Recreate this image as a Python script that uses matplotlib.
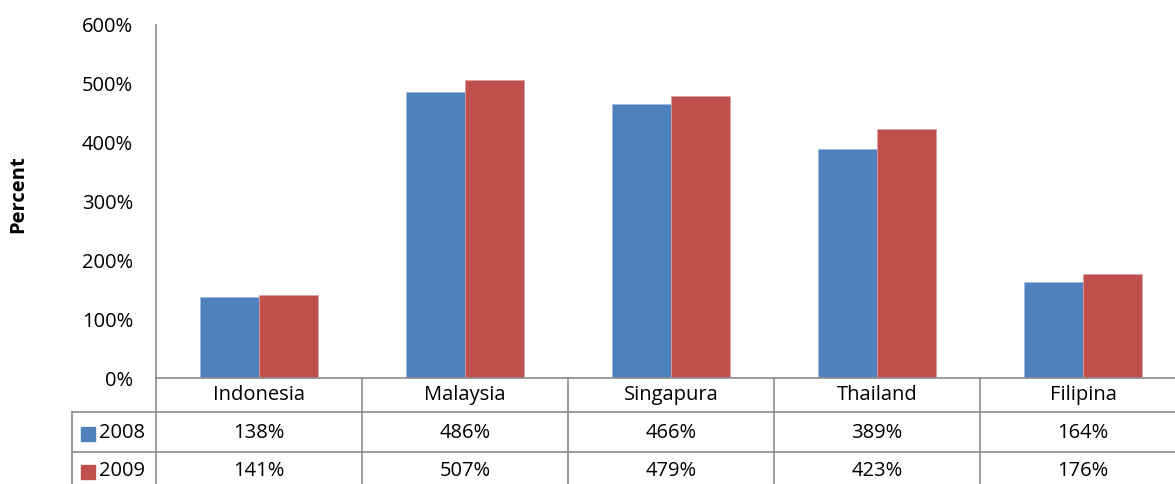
import matplotlib
matplotlib.use("Agg")
import matplotlib.pyplot as plt
from matplotlib.patches import Rectangle

countries = ["Indonesia", "Malaysia", "Singapura", "Thailand", "Filipina"]
years = ["2008", "2009"]
v2008 = [138, 486, 466, 389, 164]
v2009 = [141, 507, 479, 423, 176]
yticks = [0, 100, 200, 300, 400, 500, 600]

BLUE, RED = "#4F81BD", "#C0504D"
GRID = "#8C8C8C"
W, H = 1175, 484
FS = 14.5

plt.rcParams["font.family"] = ["Open Sans", "DejaVu Sans"]
fig = plt.figure(figsize=(W / 100, H / 100), dpi=100)

# plot area in pixel terms (chart is cropped on the right and bottom)
x0, cw, ytop, ybot = 156, 206, 25, 378
ax = fig.add_axes([x0 / W, 1 - ybot / H, 5 * cw / W, (ybot - ytop) / H])
ax.set_xlim(0, 5)
ax.set_ylim(0, 600)

bw = 0.286
xs = [i + 0.5 for i in range(len(countries))]
ax.bar([x - bw / 2 for x in xs], v2008, bw, color=BLUE, edgecolor="#9DB9DC", lw=0.5)
ax.bar([x + bw / 2 for x in xs], v2009, bw, color=RED, edgecolor="#DE9E9C", lw=0.5)

ax.set_yticks(yticks)
ax.set_yticklabels([f"{t}%" for t in yticks], fontsize=FS)
ax.tick_params(axis="y", length=0, pad=16.5)
ax.set_xticks([])
for s in ["top", "right", "bottom"]:
    ax.spines[s].set_visible(False)
ax.spines["left"].set_color(GRID)
ax.spines["left"].set_linewidth(1.2)

def px(x, y):
    return x / W, 1 - y / H

fig.text(*px(18, 194), "Percent", rotation=90, ha="center", va="center",
         fontsize=FS, fontweight="bold")

# data table below the axis, drawn in pixel coordinates
tr = fig.transFigure
xl = 72
xr = x0 + 5 * cw
fig.add_artist(plt.Line2D(*zip(px(x0, 378), px(xr, 378)), color=GRID, lw=1.2))
for y in (412, 452):
    fig.add_artist(plt.Line2D(*zip(px(xl, y), px(xr, y)), color=GRID, lw=1.2))
fig.add_artist(plt.Line2D(*zip(px(xl, 412), px(xl, H + 5)), color=GRID, lw=1.2))
fig.add_artist(plt.Line2D(*zip(px(x0, 378), px(x0, H + 5)), color=GRID, lw=1.2))
for i in range(1, 6):
    xb = x0 + i * cw
    fig.add_artist(plt.Line2D(*zip(px(xb, 378), px(xb, H + 5)), color=GRID, lw=1.2))

for i, c in enumerate(countries):
    cx = x0 + (i + 0.5) * cw
    fig.text(*px(cx, 395), c, ha="center", va="center", fontsize=FS)
    fig.text(*px(cx, 433), f"{v2008[i]}%", ha="center", va="center", fontsize=FS)
    fig.text(*px(cx, 471), f"{v2009[i]}%", ha="center", va="center", fontsize=FS)

for yr, col, yc in [(years[0], BLUE, 434), (years[1], RED, 472)]:
    fig.add_artist(Rectangle(px(81, yc + 7), 14 / W, 14 / H, transform=tr, color=col))
    fig.text(*px(99, yc - 1), yr, ha="left", va="center", fontsize=FS)

fig.savefig("out.png", dpi=100)
